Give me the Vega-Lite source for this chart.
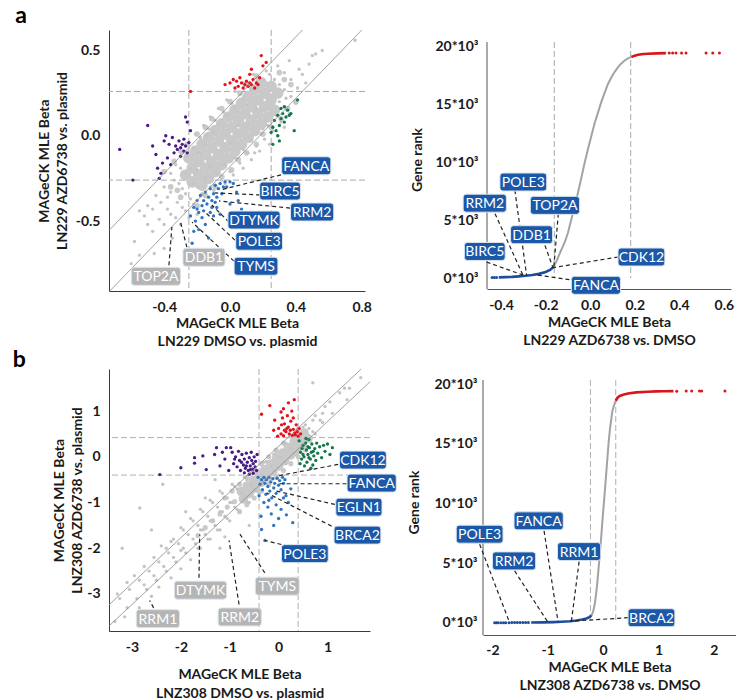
{
"$schema":"https://vega.github.io/schema/vega-lite/v6.json",
"background":"white",
"padding":{"left":12,"top":4,"right":0,"bottom":0},
"config":{"view":{"stroke":null},"font":"Lato",
"axis":{"labelFont":"Lato","labelFontSize":14,"labelFontWeight":"bold","labelColor":"#1a1a1a","titleFont":"Lato","titleFontSize":14,"titleFontWeight":"bold","titleColor":"#1a1a1a","ticks":false,"grid":false,"domainColor":"#3a3a3a","labelPadding":8,"titleLineHeight":18,"labelOverlap":false},
"title":{"font":"Lato","color":"#000000"}},
"resolve":{"scale":{"color":"independent","fill":"independent","shape":"independent"}},
"datasets":{
"a1thx":[{"v":-0.25},{"v":0.25}],
"a1thy":[{"v":-0.26},{"v":0.26}],
"a1diag":[{"x":-0.735,"y":-0.555,"x2":0.44,"y2":0.62},{"x":-0.73,"y":-0.91,"x2":0.8,"y2":0.62}],
"a1pts":[
{"x":-0.17,"y":-0.29,"g":"c"},{"x":-0.13,"y":-0.25,"g":"c"},{"x":-0.09,"y":-0.21,"g":"c"},{"x":-0.05,"y":-0.17,"g":"c"},{"x":-0.01,"y":-0.13,"g":"c"},{"x":0.03,"y":-0.09,"g":"c"},{"x":0.07,"y":-0.05,"g":"c"},{"x":0.11,"y":-0.01,"g":"c"},{"x":0.15,"y":0.03,"g":"c"},{"x":0.19,"y":0.07,"g":"c"},{"x":0.23,"y":0.11,"g":"c"},{"x":0.27,"y":0.15,"g":"c"},
{"x":-0.23,"y":-0.27,"g":"c"},{"x":-0.19,"y":-0.23,"g":"c"},{"x":-0.15,"y":-0.19,"g":"c"},{"x":-0.11,"y":-0.15,"g":"c"},{"x":-0.07,"y":-0.11,"g":"c"},{"x":-0.03,"y":-0.07,"g":"c"},{"x":0.01,"y":-0.03,"g":"c"},{"x":0.05,"y":0.01,"g":"c"},{"x":0.09,"y":0.05,"g":"c"},{"x":0.13,"y":0.09,"g":"c"},{"x":0.17,"y":0.13,"g":"c"},{"x":0.21,"y":0.17,"g":"c"},{"x":0.25,"y":0.21,"g":"c"},{"x":0.29,"y":0.25,"g":"c"},
{"x":-0.27,"y":-0.23,"g":"c"},{"x":-0.23,"y":-0.19,"g":"c"},{"x":-0.19,"y":-0.15,"g":"c"},{"x":-0.15,"y":-0.11,"g":"c"},{"x":-0.11,"y":-0.07,"g":"c"},{"x":-0.07,"y":-0.03,"g":"c"},{"x":-0.03,"y":0.01,"g":"c"},{"x":0.01,"y":0.05,"g":"c"},{"x":0.05,"y":0.09,"g":"c"},{"x":0.09,"y":0.13,"g":"c"},{"x":0.13,"y":0.17,"g":"c"},{"x":0.17,"y":0.21,"g":"c"},{"x":0.21,"y":0.25,"g":"c"},{"x":0.25,"y":0.29,"g":"c"},
{"x":-0.25,"y":-0.13,"g":"c"},{"x":-0.21,"y":-0.09,"g":"c"},{"x":-0.17,"y":-0.05,"g":"c"},{"x":-0.13,"y":-0.01,"g":"c"},{"x":-0.09,"y":0.03,"g":"c"},{"x":-0.05,"y":0.07,"g":"c"},{"x":-0.01,"y":0.11,"g":"c"},{"x":0.03,"y":0.15,"g":"c"},{"x":0.07,"y":0.19,"g":"c"},{"x":0.11,"y":0.23,"g":"c"},{"x":0.15,"y":0.27,"g":"c"},{"x":0.19,"y":0.31,"g":"c"},
{"x":-0.4,"y":-0.21,"g":"h"},{"x":-0.34,"y":-0.15,"g":"h"},{"x":-0.3,"y":-0.09,"g":"h"},{"x":-0.26,"y":-0.05,"g":"h"},{"x":-0.2,"y":0.01,"g":"h"},{"x":-0.15,"y":0.05,"g":"h"},{"x":-0.11,"y":0.1,"g":"h"},{"x":-0.05,"y":0.16,"g":"h"},{"x":0.0,"y":0.2,"g":"h"},{"x":0.06,"y":0.25,"g":"h"},{"x":0.1,"y":0.3,"g":"h"},{"x":0.16,"y":0.35,"g":"h"},{"x":-0.2,"y":-0.41,"g":"h"},{"x":-0.15,"y":-0.35,"g":"h"},{"x":-0.09,"y":-0.3,"g":"h"},{"x":-0.05,"y":-0.24,"g":"h"},{"x":0.01,"y":-0.2,"g":"h"},{"x":0.05,"y":-0.14,"g":"h"},{"x":0.1,"y":-0.1,"g":"h"},{"x":0.16,"y":-0.05,"g":"h"},{"x":0.2,"y":0.01,"g":"h"},{"x":0.25,"y":0.05,"g":"h"},{"x":0.31,"y":0.1,"g":"h"},{"x":0.35,"y":0.16,"g":"h"},{"x":0.4,"y":0.2,"g":"h"},{"x":-0.32,"y":-0.32,"g":"h"},{"x":0.33,"y":0.33,"g":"h"},{"x":0.3,"y":0.37,"g":"h"},{"x":0.37,"y":0.3,"g":"h"},{"x":-0.36,"y":-0.3,"g":"h"},{"x":-0.3,"y":-0.36,"g":"h"},
{"x":-0.58,"y":-0.62,"g":"s"},{"x":-0.55,"y":-0.7,"g":"s"},{"x":-0.52,"y":-0.47,"g":"s"},{"x":-0.47,"y":-0.56,"g":"s"},{"x":-0.55,"y":-0.44,"g":"s"},{"x":-0.5,"y":-0.52,"g":"s"},{"x":-0.46,"y":-0.69,"g":"s"},{"x":-0.43,"y":-0.49,"g":"s"},{"x":-0.5,"y":-0.41,"g":"s"},{"x":-0.4,"y":-0.52,"g":"s"},{"x":-0.47,"y":-0.43,"g":"s"},{"x":-0.38,"y":-0.43,"g":"s"},{"x":-0.45,"y":-0.35,"g":"s"},{"x":-0.36,"y":-0.46,"g":"s"},{"x":-0.42,"y":-0.39,"g":"s"},{"x":-0.33,"y":-0.48,"g":"s"},{"x":-0.32,"y":-0.39,"g":"s"},{"x":-0.4,"y":-0.3,"g":"s"},{"x":-0.29,"y":-0.42,"g":"s"},{"x":-0.36,"y":-0.33,"g":"s"},{"x":-0.27,"y":-0.44,"g":"s"},{"x":-0.38,"y":-0.36,"g":"s"},{"x":-0.27,"y":-0.34,"g":"s"},{"x":-0.34,"y":-0.26,"g":"s"},{"x":-0.24,"y":-0.37,"g":"s"},{"x":-0.31,"y":-0.28,"g":"s"},{"x":-0.22,"y":-0.4,"g":"s"},{"x":-0.36,"y":-0.22,"g":"s"},{"x":-0.29,"y":-0.31,"g":"s"},{"x":-0.2,"y":-0.3,"g":"s"},{"x":-0.3,"y":-0.19,"g":"s"},{"x":-0.17,"y":-0.34,"g":"s"},{"x":-0.27,"y":-0.22,"g":"s"},{"x":-0.33,"y":-0.17,"g":"s"},{"x":-0.22,"y":-0.28,"g":"s"},{"x":-0.15,"y":-0.25,"g":"s"},{"x":-0.26,"y":-0.12,"g":"s"},{"x":-0.12,"y":-0.3,"g":"s"},{"x":-0.29,"y":-0.1,"g":"s"},{"x":-0.2,"y":-0.2,"g":"s"},{"x":-0.1,"y":-0.32,"g":"s"},{"x":-0.08,"y":-0.22,"g":"s"},{"x":-0.22,"y":-0.07,"g":"s"},{"x":-0.05,"y":-0.26,"g":"s"},{"x":-0.25,"y":-0.04,"g":"s"},{"x":-0.19,"y":-0.1,"g":"s"},{"x":-0.03,"y":-0.28,"g":"s"},{"x":-0.03,"y":-0.17,"g":"s"},{"x":-0.18,"y":-0.01,"g":"s"},{"x":0.0,"y":-0.21,"g":"s"},{"x":-0.21,"y":0.01,"g":"s"},{"x":-0.15,"y":-0.05,"g":"s"},{"x":0.02,"y":-0.23,"g":"s"},{"x":0.03,"y":-0.13,"g":"s"},{"x":-0.13,"y":0.04,"g":"s"},{"x":0.06,"y":-0.16,"g":"s"},{"x":-0.16,"y":0.06,"g":"s"},{"x":0.08,"y":-0.19,"g":"s"},{"x":-0.1,"y":0.02,"g":"s"},{"x":0.08,"y":-0.08,"g":"s"},{"x":-0.09,"y":0.09,"g":"s"},{"x":0.11,"y":-0.1,"g":"s"},{"x":-0.12,"y":0.11,"g":"s"},{"x":0.13,"y":-0.14,"g":"s"},{"x":-0.07,"y":0.07,"g":"s"},{"x":0.13,"y":-0.03,"g":"s"},{"x":-0.04,"y":0.14,"g":"s"},{"x":0.16,"y":-0.06,"g":"s"},{"x":-0.07,"y":0.16,"g":"s"},{"x":0.18,"y":-0.09,"g":"s"},{"x":-0.02,"y":0.12,"g":"s"},{"x":0.19,"y":0.01,"g":"s"},{"x":0.01,"y":0.19,"g":"s"},{"x":0.21,"y":-0.02,"g":"s"},{"x":-0.02,"y":0.21,"g":"s"},{"x":0.24,"y":-0.05,"g":"s"},{"x":0.03,"y":0.17,"g":"s"},{"x":0.23,"y":0.06,"g":"s"},{"x":0.06,"y":0.24,"g":"s"},{"x":0.26,"y":0.03,"g":"s"},{"x":0.03,"y":0.26,"g":"s"},{"x":0.29,"y":0.0,"g":"s"},{"x":0.08,"y":0.22,"g":"s"},{"x":0.28,"y":0.12,"g":"s"},{"x":0.11,"y":0.29,"g":"s"},{"x":0.31,"y":0.08,"g":"s"},{"x":0.08,"y":0.31,"g":"s"},{"x":0.33,"y":0.05,"g":"s"},{"x":0.13,"y":0.27,"g":"s"},{"x":0.33,"y":0.17,"g":"s"},{"x":0.16,"y":0.34,"g":"s"},{"x":0.36,"y":0.13,"g":"s"},{"x":0.14,"y":0.36,"g":"s"},{"x":0.3,"y":0.2,"g":"s"},{"x":0.37,"y":0.23,"g":"s"},{"x":0.22,"y":0.38,"g":"s"},{"x":0.4,"y":0.19,"g":"s"},{"x":0.27,"y":0.33,"g":"s"},{"x":0.33,"y":0.27,"g":"s"},{"x":0.3,"y":0.3,"g":"s"},{"x":0.41,"y":0.28,"g":"s"},{"x":0.29,"y":0.41,"g":"s"},{"x":0.37,"y":0.33,"g":"s"},{"x":0.33,"y":0.37,"g":"s"},{"x":0.44,"y":0.36,"g":"s"},{"x":0.36,"y":0.44,"g":"s"},{"x":0.42,"y":0.39,"g":"s"},{"x":0.48,"y":0.42,"g":"s"},{"x":0.52,"y":0.48,"g":"s"},{"x":0.76,"y":0.56,"g":"s"},{"x":0.5,"y":0.47,"g":"s"},{"x":0.56,"y":0.5,"g":"s"},{"x":0.46,"y":0.31,"g":"s"},{"x":0.24,"y":0.36,"g":"s"},{"x":0.2,"y":0.33,"g":"s"},{"x":0.34,"y":0.22,"g":"s"},{"x":-0.35,"y":-0.6,"g":"s"},{"x":-0.4,"y":-0.66,"g":"s"},{"x":-0.3,"y":-0.52,"g":"s"},{"x":-0.6,"y":-0.75,"g":"s"},{"x":-0.25,"y":-0.48,"g":"s"},{"x":-0.2,"y":-0.46,"g":"s"},{"x":-0.18,"y":-0.1,"g":"s"},{"x":-0.12,"y":-0.18,"g":"s"},{"x":0.0,"y":-0.04,"g":"s"},{"x":0.05,"y":0.06,"g":"s"},{"x":0.16,"y":0.16,"g":"s"},{"x":-0.24,"y":-0.19,"g":"s"},{"x":-0.14,"y":0.0,"g":"s"},{"x":0.1,"y":0.18,"g":"s"},{"x":0.2,"y":0.04,"g":"s"},{"x":0.15,"y":-0.1,"g":"s"},
{"x":-0.24,"y":0.26,"g":"r"},{"x":-0.03,"y":0.3,"g":"r"},{"x":0.0,"y":0.31,"g":"r"},{"x":0.02,"y":0.33,"g":"r"},{"x":0.03,"y":0.28,"g":"r"},{"x":0.04,"y":0.32,"g":"r"},{"x":0.05,"y":0.29,"g":"r"},{"x":0.06,"y":0.34,"g":"r"},{"x":0.07,"y":0.31,"g":"r"},{"x":0.08,"y":0.28,"g":"r"},{"x":0.09,"y":0.3,"g":"r"},{"x":0.1,"y":0.32,"g":"r"},{"x":0.11,"y":0.29,"g":"r"},{"x":0.12,"y":0.31,"g":"r"},{"x":0.13,"y":0.3,"g":"r"},{"x":0.14,"y":0.33,"g":"r"},{"x":0.15,"y":0.28,"g":"r"},{"x":0.16,"y":0.31,"g":"r"},{"x":0.17,"y":0.3,"g":"r"},{"x":0.13,"y":0.39,"g":"r"},{"x":0.19,"y":0.47,"g":"r"},{"x":0.22,"y":0.43,"g":"r"},{"x":0.2,"y":0.41,"g":"r"},{"x":0.12,"y":0.36,"g":"r"},{"x":0.18,"y":0.34,"g":"r"},
{"x":-0.67,"y":-0.08,"g":"p"},{"x":-0.59,"y":-0.26,"g":"p"},{"x":-0.5,"y":0.06,"g":"p"},{"x":-0.47,"y":-0.06,"g":"p"},{"x":-0.45,"y":-0.11,"g":"p"},{"x":-0.44,"y":-0.19,"g":"p"},{"x":-0.42,"y":-0.22,"g":"p"},{"x":-0.4,"y":-0.03,"g":"p"},{"x":-0.39,"y":0.0,"g":"p"},{"x":-0.38,"y":-0.13,"g":"p"},{"x":-0.37,"y":-0.05,"g":"p"},{"x":-0.36,"y":-0.17,"g":"p"},{"x":-0.35,"y":-0.01,"g":"p"},{"x":-0.34,"y":-0.1,"g":"p"},{"x":-0.33,"y":-0.06,"g":"p"},{"x":-0.32,"y":-0.08,"g":"p"},{"x":-0.31,"y":-0.03,"g":"p"},{"x":-0.3,"y":-0.07,"g":"p"},{"x":-0.3,"y":-0.12,"g":"p"},{"x":-0.29,"y":-0.05,"g":"p"},{"x":-0.28,"y":-0.09,"g":"p"},{"x":-0.28,"y":-0.02,"g":"p"},{"x":-0.27,"y":-0.06,"g":"p"},{"x":-0.27,"y":0.11,"g":"p"},{"x":-0.26,"y":0.08,"g":"p"},{"x":-0.26,"y":-0.1,"g":"p"},{"x":-0.25,"y":-0.04,"g":"p"},{"x":-0.24,"y":0.03,"g":"p"},{"x":-0.41,"y":-0.16,"g":"p"},{"x":-0.43,"y":-0.25,"g":"p"},
{"x":0.41,"y":0.21,"g":"gr"},{"x":0.39,"y":0.03,"g":"gr"},{"x":0.37,"y":0.13,"g":"gr"},{"x":0.35,"y":0.15,"g":"gr"},{"x":0.34,"y":0.11,"g":"gr"},{"x":0.33,"y":0.08,"g":"gr"},{"x":0.32,"y":0.13,"g":"gr"},{"x":0.31,"y":0.1,"g":"gr"},{"x":0.3,"y":0.06,"g":"gr"},{"x":0.29,"y":0.12,"g":"gr"},{"x":0.28,"y":0.03,"g":"gr"},{"x":0.27,"y":0.09,"g":"gr"},{"x":0.26,"y":0.05,"g":"gr"},{"x":0.25,"y":0.02,"g":"gr"},{"x":0.26,"y":-0.05,"g":"gr"},{"x":0.3,"y":-0.03,"g":"gr"},{"x":0.33,"y":0.17,"g":"gr"},{"x":0.36,"y":0.12,"g":"gr"},{"x":0.29,"y":0.0,"g":"gr"},{"x":0.31,"y":0.16,"g":"gr"},
{"x":-0.22,"y":-0.42,"g":"b"},{"x":-0.2,"y":-0.38,"g":"b"},{"x":-0.19,"y":-0.45,"g":"b"},{"x":-0.18,"y":-0.35,"g":"b"},{"x":-0.17,"y":-0.41,"g":"b"},{"x":-0.16,"y":-0.38,"g":"b"},{"x":-0.15,"y":-0.33,"g":"b"},{"x":-0.14,"y":-0.4,"g":"b"},{"x":-0.13,"y":-0.36,"g":"b"},{"x":-0.12,"y":-0.31,"g":"b"},{"x":-0.11,"y":-0.38,"g":"b"},{"x":-0.1,"y":-0.34,"g":"b"},{"x":-0.09,"y":-0.29,"g":"b"},{"x":-0.08,"y":-0.36,"g":"b"},{"x":-0.07,"y":-0.31,"g":"b"},{"x":-0.06,"y":-0.28,"g":"b"},{"x":-0.05,"y":-0.34,"g":"b"},{"x":-0.04,"y":-0.3,"g":"b"},{"x":-0.03,"y":-0.27,"g":"b"},{"x":-0.02,"y":-0.3,"g":"b"},{"x":0.0,"y":-0.27,"g":"b"},{"x":0.02,"y":-0.28,"g":"b"},{"x":0.04,"y":-0.33,"g":"b"},{"x":-0.21,"y":-0.5,"g":"b"},{"x":-0.19,"y":-0.55,"g":"b"},{"x":-0.17,"y":-0.48,"g":"b"},{"x":-0.15,"y":-0.52,"g":"b"},{"x":-0.12,"y":-0.45,"g":"b"},{"x":-0.1,"y":-0.47,"g":"b"},{"x":-0.08,"y":-0.42,"g":"b"},{"x":-0.06,"y":-0.46,"g":"b"},{"x":-0.23,"y":-0.63,"g":"b"},{"x":-0.24,"y":-0.47,"g":"b"},{"x":-0.22,"y":-0.56,"g":"b"},{"x":-0.13,"y":-0.6,"g":"b"},{"x":0.0,"y":-0.4,"g":"b"},{"x":0.05,"y":-0.38,"g":"b"},{"x":0.07,"y":-0.43,"g":"b"},{"x":-0.16,"y":-0.44,"g":"b"},{"x":-0.2,"y":-0.43,"g":"b"},{"x":-0.11,"y":-0.42,"g":"b"},{"x":-0.09,"y":-0.39,"g":"b"}],
"a1lead":[{"x":0.31,"y":-0.229,"x2":-0.061,"y2":-0.318},{"x":0.183,"y":-0.347,"x2":-0.091,"y2":-0.335},{"x":0.365,"y":-0.424,"x2":-0.067,"y2":-0.382},{"x":-0.006,"y":-0.506,"x2":-0.11,"y2":-0.406},{"x":0.03,"y":-0.612,"x2":-0.152,"y2":-0.447},{"x":0.024,"y":-0.735,"x2":-0.231,"y2":-0.506},{"x":-0.262,"y":-0.653,"x2":-0.304,"y2":-0.494},{"x":-0.371,"y":-0.759,"x2":-0.353,"y2":-0.535}],
"a1lab":[{"lab":"FANCA","x":0.463,"y":-0.176,"k":"b"},{"lab":"BIRC5","x":0.304,"y":-0.324,"k":"b"},{"lab":"RRM2","x":0.499,"y":-0.447,"k":"b"},{"lab":"DTYMK","x":0.146,"y":-0.494,"k":"b"},{"lab":"POLE3","x":0.177,"y":-0.618,"k":"b"},{"lab":"TYMS","x":0.158,"y":-0.765,"k":"b"},{"lab":"DDB1","x":-0.158,"y":-0.712,"k":"g"},{"lab":"TOP2A","x":-0.45,"y":-0.824,"k":"g"}],
"a2thx":[{"v":-0.161},{"v":0.182}],
"a2axis":[{"x":-0.463,"y":-950,"y2":20430}],
"a2rank":[
{"b":-0.41,"r":60,"s":"blue"},{"b":-0.38,"r":80,"s":"blue"},{"b":-0.35,"r":100,"s":"blue"},{"b":-0.32,"r":140,"s":"blue"},{"b":-0.29,"r":190,"s":"blue"},{"b":-0.26,"r":260,"s":"blue"},{"b":-0.23,"r":360,"s":"blue"},{"b":-0.2,"r":520,"s":"blue"},{"b":-0.18,"r":700,"s":"blue"},{"b":-0.165,"r":950,"s":"blue"},
{"b":-0.165,"r":950,"s":"grey"},{"b":-0.15,"r":1500,"s":"grey"},{"b":-0.135,"r":2200,"s":"grey"},{"b":-0.114,"r":3100,"s":"grey"},{"b":-0.1,"r":3900,"s":"grey"},{"b":-0.084,"r":5100,"s":"grey"},{"b":-0.07,"r":6200,"s":"grey"},{"b":-0.054,"r":7450,"s":"grey"},{"b":-0.04,"r":8650,"s":"grey"},{"b":-0.024,"r":10050,"s":"grey"},{"b":-0.01,"r":11150,"s":"grey"},{"b":0.006,"r":12350,"s":"grey"},{"b":0.02,"r":13400,"s":"grey"},{"b":0.036,"r":14380,"s":"grey"},{"b":0.05,"r":15250,"s":"grey"},{"b":0.066,"r":16100,"s":"grey"},{"b":0.08,"r":16800,"s":"grey"},{"b":0.096,"r":17400,"s":"grey"},{"b":0.11,"r":17850,"s":"grey"},{"b":0.126,"r":18270,"s":"grey"},{"b":0.14,"r":18580,"s":"grey"},{"b":0.156,"r":18850,"s":"grey"},{"b":0.17,"r":19020,"s":"grey"},{"b":0.185,"r":19140,"s":"grey"},
{"b":0.185,"r":19140,"s":"red"},{"b":0.2,"r":19250,"s":"red"},{"b":0.215,"r":19330,"s":"red"},{"b":0.24,"r":19390,"s":"red"},{"b":0.26,"r":19420,"s":"red"},{"b":0.3,"r":19450,"s":"red"},{"b":0.34,"r":19465,"s":"red"}],
"a2dots":[{"b":-0.44,"r":40,"s":"blue"},{"b":-0.43,"r":45,"s":"blue"},{"b":-0.42,"r":50,"s":"blue"},{"b":0.355,"r":19470,"s":"red"},{"b":0.37,"r":19470,"s":"red"},{"b":0.385,"r":19470,"s":"red"},{"b":0.41,"r":19475,"s":"red"},{"b":0.43,"r":19475,"s":"red"},{"b":0.52,"r":19480,"s":"red"},{"b":0.55,"r":19480,"s":"red"},{"b":0.58,"r":19480,"s":"red"}],
"a2lead":[{"x":-0.338,"y":7600,"x2":-0.285,"y2":200},{"x":-0.427,"y":5570,"x2":-0.3,"y2":180},{"x":-0.465,"y":1385,"x2":-0.293,"y2":200},{"x":-0.203,"y":2830,"x2":-0.166,"y2":850},{"x":-0.143,"y":5570,"x2":-0.163,"y2":950},{"x":0.126,"y":1820,"x2":-0.166,"y2":900},{"x":0.0,"y":-400,"x2":-0.25,"y2":300}],
"a2lab":[{"lab":"POLE3","x":-0.3,"y":8310},{"lab":"RRM2","x":-0.473,"y":6480},{"lab":"TOP2A","x":-0.158,"y":6290},{"lab":"DDB1","x":-0.263,"y":3750},{"lab":"BIRC5","x":-0.473,"y":2300},{"lab":"CDK12","x":0.23,"y":1820},{"lab":"FANCA","x":0.026,"y":-630}],
"b1thx":[{"v":-0.4},{"v":0.4}],
"b1thy":[{"v":-0.4},{"v":0.42}],
"b1diag":[{"x":-3.47,"y":-3.24,"x2":1.69,"y2":1.92},{"x":-3.47,"y":-3.7,"x2":1.87,"y2":1.64}],
"b1pts":[
{"x":-0.72,"y":-0.92,"g":"c"},{"x":-0.6,"y":-0.8,"g":"c"},{"x":-0.48,"y":-0.68,"g":"c"},{"x":-0.36,"y":-0.56,"g":"c"},{"x":-0.24,"y":-0.44,"g":"c"},{"x":-0.12,"y":-0.32,"g":"c"},{"x":0.0,"y":-0.2,"g":"c"},{"x":0.12,"y":-0.08,"g":"c"},{"x":0.24,"y":0.04,"g":"c"},{"x":0.36,"y":0.16,"g":"c"},{"x":0.48,"y":0.28,"g":"c"},{"x":0.6,"y":0.4,"g":"c"},
{"x":-0.76,"y":-0.76,"g":"c"},{"x":-0.64,"y":-0.64,"g":"c"},{"x":-0.52,"y":-0.52,"g":"c"},{"x":-0.4,"y":-0.4,"g":"c"},{"x":-0.28,"y":-0.28,"g":"c"},{"x":-0.16,"y":-0.16,"g":"c"},{"x":-0.04,"y":-0.04,"g":"c"},{"x":0.08,"y":0.08,"g":"c"},{"x":0.2,"y":0.2,"g":"c"},{"x":0.32,"y":0.32,"g":"c"},{"x":0.44,"y":0.44,"g":"c"},{"x":0.52,"y":0.52,"g":"c"},
{"x":-1.1,"y":-0.9,"g":"h"},{"x":-0.95,"y":-0.75,"g":"h"},{"x":-0.8,"y":-0.6,"g":"h"},{"x":-0.65,"y":-0.45,"g":"h"},{"x":-0.5,"y":-0.3,"g":"h"},{"x":-0.35,"y":-0.15,"g":"h"},{"x":-0.2,"y":0.0,"g":"h"},{"x":-0.05,"y":0.15,"g":"h"},{"x":0.1,"y":0.3,"g":"h"},{"x":0.25,"y":0.45,"g":"h"},{"x":0.4,"y":0.6,"g":"h"},{"x":-0.8,"y":-1.2,"g":"h"},{"x":-0.65,"y":-1.05,"g":"h"},{"x":-0.5,"y":-0.9,"g":"h"},{"x":-0.35,"y":-0.75,"g":"h"},{"x":-0.2,"y":-0.6,"g":"h"},{"x":-0.05,"y":-0.45,"g":"h"},{"x":0.1,"y":-0.3,"g":"h"},{"x":0.25,"y":-0.15,"g":"h"},{"x":0.4,"y":0.0,"g":"h"},{"x":0.55,"y":0.15,"g":"h"},{"x":-0.9,"y":-0.98,"g":"h"},{"x":-1.05,"y":-1.1,"g":"h"},{"x":-1.2,"y":-1.25,"g":"h"},{"x":-1.35,"y":-1.4,"g":"h"},{"x":-1.5,"y":-1.55,"g":"h"},{"x":-1.65,"y":-1.72,"g":"h"},
{"x":1.25,"y":1.4,"g":"s"},{"x":1.4,"y":1.25,"g":"s"},{"x":1.35,"y":1.5,"g":"s"},{"x":0.7,"y":1.62,"g":"s"},{"x":1.68,"y":1.73,"g":"s"},{"x":1.45,"y":1.5,"g":"s"},{"x":0.95,"y":1.1,"g":"s"},{"x":1.1,"y":0.95,"g":"s"},{"x":1.05,"y":1.2,"g":"s"},{"x":0.9,"y":0.95,"g":"s"},{"x":0.75,"y":0.9,"g":"s"},{"x":0.9,"y":0.75,"g":"s"},{"x":0.85,"y":0.8,"g":"s"},{"x":0.7,"y":0.8,"g":"s"},{"x":0.55,"y":0.7,"g":"s"},{"x":0.7,"y":0.55,"g":"s"},{"x":0.62,"y":0.62,"g":"s"},{"x":0.5,"y":0.65,"g":"s"},{"x":0.75,"y":0.5,"g":"s"},{"x":0.35,"y":0.5,"g":"s"},{"x":0.45,"y":0.35,"g":"s"},{"x":0.5,"y":0.3,"g":"s"},{"x":0.3,"y":0.45,"g":"s"},{"x":0.42,"y":0.42,"g":"s"},{"x":0.15,"y":0.3,"g":"s"},{"x":0.3,"y":0.1,"g":"s"},{"x":0.25,"y":0.2,"g":"s"},{"x":0.35,"y":0.05,"g":"s"},{"x":0.1,"y":0.28,"g":"s"},{"x":-0.05,"y":0.1,"g":"s"},{"x":0.1,"y":-0.1,"g":"s"},{"x":0.05,"y":0.0,"g":"s"},{"x":0.15,"y":-0.15,"g":"s"},{"x":-0.1,"y":0.05,"g":"s"},{"x":-0.25,"y":-0.1,"g":"s"},{"x":-0.1,"y":-0.3,"g":"s"},{"x":-0.15,"y":-0.2,"g":"s"},{"x":0.0,"y":-0.4,"g":"s"},{"x":-0.3,"y":-0.12,"g":"s"},{"x":-0.45,"y":-0.3,"g":"s"},{"x":-0.3,"y":-0.5,"g":"s"},{"x":-0.35,"y":-0.4,"g":"s"},{"x":-0.2,"y":-0.6,"g":"s"},{"x":-0.5,"y":-0.3,"g":"s"},{"x":-0.65,"y":-0.5,"g":"s"},{"x":-0.5,"y":-0.7,"g":"s"},{"x":-0.55,"y":-0.6,"g":"s"},{"x":-0.4,"y":-0.8,"g":"s"},{"x":-0.7,"y":-0.45,"g":"s"},{"x":-0.45,"y":-0.75,"g":"s"},{"x":-0.85,"y":-0.7,"g":"s"},{"x":-0.7,"y":-0.9,"g":"s"},{"x":-0.75,"y":-0.8,"g":"s"},{"x":-0.6,"y":-1.0,"g":"s"},{"x":-0.9,"y":-0.65,"g":"s"},{"x":-0.95,"y":-0.6,"g":"s"},{"x":-0.65,"y":-1.0,"g":"s"},{"x":-1.05,"y":-0.9,"g":"s"},{"x":-0.9,"y":-1.1,"g":"s"},{"x":-0.95,"y":-1.0,"g":"s"},{"x":-0.8,"y":-1.2,"g":"s"},{"x":-1.15,"y":-0.8,"g":"s"},{"x":-1.2,"y":-0.75,"g":"s"},{"x":-0.85,"y":-1.15,"g":"s"},{"x":-1.0,"y":-1.0,"g":"s"},{"x":-1.25,"y":-1.1,"g":"s"},{"x":-1.1,"y":-1.3,"g":"s"},{"x":-1.15,"y":-1.2,"g":"s"},{"x":-1.0,"y":-1.4,"g":"s"},{"x":-1.35,"y":-1.0,"g":"s"},{"x":-1.4,"y":-0.95,"g":"s"},{"x":-1.05,"y":-1.35,"g":"s"},{"x":-1.2,"y":-1.2,"g":"s"},{"x":-1.5,"y":-0.9,"g":"s"},{"x":-1.45,"y":-1.3,"g":"s"},{"x":-1.3,"y":-1.5,"g":"s"},{"x":-1.35,"y":-1.4,"g":"s"},{"x":-1.2,"y":-1.6,"g":"s"},{"x":-1.55,"y":-1.2,"g":"s"},{"x":-1.6,"y":-1.15,"g":"s"},{"x":-1.25,"y":-1.6,"g":"s"},{"x":-1.4,"y":-1.4,"g":"s"},{"x":-1.1,"y":-1.75,"g":"s"},{"x":-1.65,"y":-1.5,"g":"s"},{"x":-1.5,"y":-1.7,"g":"s"},{"x":-1.55,"y":-1.6,"g":"s"},{"x":-1.4,"y":-1.8,"g":"s"},{"x":-1.75,"y":-1.4,"g":"s"},{"x":-1.8,"y":-1.35,"g":"s"},{"x":-1.45,"y":-1.8,"g":"s"},{"x":-1.6,"y":-1.6,"g":"s"},{"x":-1.85,"y":-1.7,"g":"s"},{"x":-1.7,"y":-1.9,"g":"s"},{"x":-1.75,"y":-1.8,"g":"s"},{"x":-1.6,"y":-2.0,"g":"s"},{"x":-1.95,"y":-1.6,"g":"s"},{"x":-2.0,"y":-1.55,"g":"s"},{"x":-1.65,"y":-2.0,"g":"s"},{"x":-2.05,"y":-1.9,"g":"s"},{"x":-1.9,"y":-2.1,"g":"s"},{"x":-1.95,"y":-2.0,"g":"s"},{"x":-1.8,"y":-2.25,"g":"s"},{"x":-2.15,"y":-1.8,"g":"s"},{"x":-2.2,"y":-1.85,"g":"s"},{"x":-2.0,"y":-2.05,"g":"s"},{"x":-2.25,"y":-2.1,"g":"s"},{"x":-2.1,"y":-2.3,"g":"s"},{"x":-2.15,"y":-2.2,"g":"s"},{"x":-2.3,"y":-2.0,"g":"s"},{"x":-2.0,"y":-2.45,"g":"s"},{"x":-2.4,"y":-1.95,"g":"s"},{"x":-2.45,"y":-2.3,"g":"s"},{"x":-2.3,"y":-2.5,"g":"s"},{"x":-2.35,"y":-2.4,"g":"s"},{"x":-2.55,"y":-2.2,"g":"s"},{"x":-2.2,"y":-2.65,"g":"s"},{"x":-2.65,"y":-2.5,"g":"s"},{"x":-2.5,"y":-2.7,"g":"s"},{"x":-2.55,"y":-2.6,"g":"s"},{"x":-2.75,"y":-2.4,"g":"s"},{"x":-2.45,"y":-2.85,"g":"s"},{"x":-2.85,"y":-2.7,"g":"s"},{"x":-2.7,"y":-2.9,"g":"s"},{"x":-2.75,"y":-2.8,"g":"s"},{"x":-2.95,"y":-2.6,"g":"s"},{"x":-2.6,"y":-3.05,"g":"s"},{"x":-3.05,"y":-2.9,"g":"s"},{"x":-2.9,"y":-3.1,"g":"s"},{"x":-3.1,"y":-2.75,"g":"s"},{"x":-2.85,"y":-3.3,"g":"s"},{"x":-3.25,"y":-3.1,"g":"s"},{"x":-3.1,"y":-3.3,"g":"s"},{"x":-3.3,"y":-3.0,"g":"s"},{"x":-3.15,"y":-3.5,"g":"s"},{"x":-3.35,"y":-3.6,"g":"s"},{"x":-2.37,"y":-0.6,"g":"s"},{"x":-2.84,"y":-1.12,"g":"s"},{"x":-3.2,"y":-2.0,"g":"s"},{"x":-1.3,"y":-0.5,"g":"s"},{"x":-1.9,"y":-1.2,"g":"s"},{"x":-2.6,"y":-1.6,"g":"s"},{"x":-0.6,"y":-1.5,"g":"s"},{"x":-1.2,"y":-2.0,"g":"s"},
{"x":-0.35,"y":0.93,"g":"r"},{"x":-0.18,"y":1.12,"g":"r"},{"x":-0.08,"y":0.8,"g":"r"},{"x":0.0,"y":0.62,"g":"r"},{"x":0.05,"y":0.98,"g":"r"},{"x":0.08,"y":0.85,"g":"r"},{"x":0.1,"y":1.05,"g":"r"},{"x":0.12,"y":0.72,"g":"r"},{"x":0.15,"y":0.55,"g":"r"},{"x":0.18,"y":0.9,"g":"r"},{"x":0.2,"y":0.65,"g":"r"},{"x":0.22,"y":0.5,"g":"r"},{"x":0.25,"y":0.78,"g":"r"},{"x":0.27,"y":1.0,"g":"r"},{"x":0.3,"y":0.6,"g":"r"},{"x":0.32,"y":1.25,"g":"r"},{"x":0.34,"y":0.48,"g":"r"},{"x":0.36,"y":0.7,"g":"r"},{"x":0.38,"y":0.55,"g":"r"},{"x":0.4,"y":0.45,"g":"r"},{"x":0.05,"y":0.5,"g":"r"},{"x":0.1,"y":0.46,"g":"r"},{"x":0.17,"y":0.62,"g":"r"},{"x":0.24,"y":0.58,"g":"r"},{"x":0.28,"y":0.47,"g":"r"},{"x":0.33,"y":0.52,"g":"r"},{"x":0.12,"y":0.58,"g":"r"},{"x":-0.02,"y":0.45,"g":"r"},{"x":0.42,"y":0.62,"g":"r"},{"x":0.45,"y":0.5,"g":"r"},{"x":0.06,"y":0.7,"g":"r"},{"x":-0.1,"y":0.58,"g":"r"},{"x":0.3,"y":0.85,"g":"r"},{"x":0.2,"y":1.18,"g":"r"},
{"x":-2.43,"y":-0.39,"g":"p"},{"x":-2.0,"y":-0.24,"g":"p"},{"x":-1.72,"y":-0.02,"g":"p"},{"x":-1.72,"y":-0.14,"g":"p"},{"x":-1.55,"y":0.02,"g":"p"},{"x":-1.48,"y":-0.28,"g":"p"},{"x":-1.31,"y":0.05,"g":"p"},{"x":-1.27,"y":0.2,"g":"p"},{"x":-1.2,"y":-0.2,"g":"p"},{"x":-1.1,"y":-0.05,"g":"p"},{"x":-1.07,"y":0.2,"g":"p"},{"x":-1.02,"y":-0.3,"g":"p"},{"x":-0.95,"y":0.1,"g":"p"},{"x":-0.92,"y":-0.15,"g":"p"},{"x":-0.88,"y":0.0,"g":"p"},{"x":-0.85,"y":-0.22,"g":"p"},{"x":-0.82,"y":0.12,"g":"p"},{"x":-0.8,"y":-0.08,"g":"p"},{"x":-0.78,"y":-0.3,"g":"p"},{"x":-0.75,"y":0.05,"g":"p"},{"x":-0.72,"y":-0.18,"g":"p"},{"x":-0.7,"y":-0.05,"g":"p"},{"x":-0.68,"y":-0.25,"g":"p"},{"x":-0.66,"y":0.08,"g":"p"},{"x":-0.64,"y":-0.12,"g":"p"},{"x":-0.62,"y":-0.3,"g":"p"},{"x":-0.6,"y":-0.02,"g":"p"},{"x":-0.58,"y":-0.2,"g":"p"},{"x":-0.56,"y":0.1,"g":"p"},{"x":-0.55,"y":-0.08,"g":"p"},{"x":-0.53,"y":-0.27,"g":"p"},{"x":-0.52,"y":-0.15,"g":"p"},{"x":-0.5,"y":0.0,"g":"p"},{"x":-0.48,"y":-0.22,"g":"p"},{"x":-0.47,"y":-0.1,"g":"p"},{"x":-0.45,"y":-0.3,"g":"p"},{"x":-0.44,"y":0.05,"g":"p"},{"x":-0.7,"y":-0.35,"g":"p"},{"x":-0.6,"y":-0.38,"g":"p"},{"x":-0.52,"y":-0.36,"g":"p"},{"x":-0.76,"y":-0.12,"g":"p"},{"x":-0.66,"y":-0.2,"g":"p"},{"x":-0.58,"y":-0.28,"g":"p"},{"x":-0.9,"y":-0.05,"g":"p"},{"x":-0.98,"y":0.2,"g":"p"},{"x":-1.15,"y":0.1,"g":"p"},
{"x":0.42,"y":0.35,"g":"gr"},{"x":0.45,"y":0.1,"g":"gr"},{"x":0.47,"y":-0.05,"g":"gr"},{"x":0.5,"y":0.25,"g":"gr"},{"x":0.52,"y":0.0,"g":"gr"},{"x":0.55,"y":0.3,"g":"gr"},{"x":0.57,"y":0.15,"g":"gr"},{"x":0.58,"y":-0.12,"g":"gr"},{"x":0.6,"y":0.05,"g":"gr"},{"x":0.62,"y":0.38,"g":"gr"},{"x":0.63,"y":0.2,"g":"gr"},{"x":0.65,"y":-0.05,"g":"gr"},{"x":0.67,"y":0.1,"g":"gr"},{"x":0.68,"y":0.28,"g":"gr"},{"x":0.7,"y":-0.18,"g":"gr"},{"x":0.72,"y":0.02,"g":"gr"},{"x":0.74,"y":0.18,"g":"gr"},{"x":0.76,"y":-0.08,"g":"gr"},{"x":0.78,"y":0.3,"g":"gr"},{"x":0.8,"y":0.08,"g":"gr"},{"x":0.84,"y":0.22,"g":"gr"},{"x":0.88,"y":-0.02,"g":"gr"},{"x":0.92,"y":0.25,"g":"gr"},{"x":0.95,"y":0.12,"g":"gr"},{"x":1.0,"y":0.28,"g":"gr"},{"x":1.05,"y":0.05,"g":"gr"},{"x":1.1,"y":0.2,"g":"gr"},{"x":0.48,"y":0.18,"g":"gr"},{"x":0.53,"y":-0.2,"g":"gr"},{"x":0.6,"y":0.22,"g":"gr"},{"x":0.66,"y":-0.25,"g":"gr"},{"x":0.56,"y":0.4,"g":"gr"},{"x":0.44,"y":-0.15,"g":"gr"},{"x":0.5,"y":0.05,"g":"gr"},{"x":0.71,"y":0.12,"g":"gr"},{"x":0.62,"y":-0.02,"g":"gr"},
{"x":-0.42,"y":-0.45,"g":"b"},{"x":-0.38,"y":-0.6,"g":"b"},{"x":-0.35,"y":-0.5,"g":"b"},{"x":-0.33,"y":-0.72,"g":"b"},{"x":-0.3,"y":-0.45,"g":"b"},{"x":-0.28,"y":-0.58,"g":"b"},{"x":-0.26,"y":-0.82,"g":"b"},{"x":-0.25,"y":-0.5,"g":"b"},{"x":-0.22,"y":-0.65,"g":"b"},{"x":-0.2,"y":-0.45,"g":"b"},{"x":-0.18,"y":-0.75,"g":"b"},{"x":-0.16,"y":-0.55,"g":"b"},{"x":-0.14,"y":-0.9,"g":"b"},{"x":-0.12,"y":-0.48,"g":"b"},{"x":-0.1,"y":-0.68,"g":"b"},{"x":-0.08,"y":-0.58,"g":"b"},{"x":-0.05,"y":-0.8,"g":"b"},{"x":-0.03,"y":-0.47,"g":"b"},{"x":0.0,"y":-0.62,"g":"b"},{"x":0.02,"y":-0.52,"g":"b"},{"x":0.05,"y":-0.72,"g":"b"},{"x":0.08,"y":-0.45,"g":"b"},{"x":0.1,"y":-0.58,"g":"b"},{"x":0.13,"y":-0.5,"g":"b"},{"x":0.15,"y":-0.85,"g":"b"},{"x":-0.3,"y":-1.0,"g":"b"},{"x":-0.22,"y":-1.1,"g":"b"},{"x":-0.15,"y":-1.25,"g":"b"},{"x":-0.05,"y":-1.05,"g":"b"},{"x":0.05,"y":-1.15,"g":"b"},{"x":0.16,"y":-1.27,"g":"b"},{"x":0.29,"y":-1.44,"g":"b"},{"x":-0.35,"y":-1.59,"g":"b"},{"x":-0.28,"y":-1.83,"g":"b"},{"x":-0.1,"y":-1.5,"g":"b"},{"x":0.2,"y":-1.0,"g":"b"},{"x":0.25,"y":-0.7,"g":"b"},{"x":-0.4,"y":-0.85,"g":"b"},{"x":-0.36,"y":-1.3,"g":"b"},{"x":0.0,"y":-1.35,"g":"b"},{"x":-0.2,"y":-0.95,"g":"b"},{"x":0.1,"y":-0.9,"g":"b"}],
"b1lead":[{"x":1.219,"y":-0.167,"x2":-0.043,"y2":-0.422},{"x":1.391,"y":-0.59,"x2":-0.043,"y2":-0.59},{"x":1.152,"y":-1.042,"x2":-0.043,"y2":-0.75},{"x":1.084,"y":-1.516,"x2":-0.248,"y2":-0.787},{"x":0.195,"y":-1.954,"x2":-0.283,"y2":-1.83},{"x":-1.629,"y":-2.647,"x2":-1.615,"y2":-1.698},{"x":-0.283,"y":-2.538,"x2":-0.795,"y2":-1.685},{"x":-0.809,"y":-3.23,"x2":-1.014,"y2":-1.83},{"x":-2.557,"y":-3.304,"x2":-2.639,"y2":-3.142}],
"b1lab":[{"lab":"CDK12","x":1.725,"y":-0.072,"k":"b"},{"lab":"FANCA","x":1.904,"y":-0.575,"k":"b"},{"lab":"EGLN1","x":1.643,"y":-1.101,"k":"b"},{"lab":"BRCA2","x":1.613,"y":-1.713,"k":"b"},{"lab":"POLE3","x":0.537,"y":-2.118,"k":"b"},{"lab":"DTYMK","x":-1.598,"y":-2.917,"k":"g"},{"lab":"TYMS","x":-0.027,"y":-2.829,"k":"g"},{"lab":"RRM2","x":-0.795,"y":-3.503,"k":"g"},{"lab":"RRM1","x":-2.469,"y":-3.54,"k":"g"}],
"b2thx":[{"v":-0.23},{"v":0.228}],
"b2axis":[{"x":-2.17,"y":-1030,"y2":20335}],
"b2rank":[
{"b":-1.3,"r":15,"s":"blue"},{"b":-1.1,"r":25,"s":"blue"},{"b":-0.9,"r":45,"s":"blue"},{"b":-0.75,"r":75,"s":"blue"},{"b":-0.6,"r":120,"s":"blue"},{"b":-0.48,"r":180,"s":"blue"},{"b":-0.38,"r":260,"s":"blue"},{"b":-0.3,"r":360,"s":"blue"},{"b":-0.25,"r":470,"s":"blue"},{"b":-0.21,"r":600,"s":"blue"},
{"b":-0.21,"r":600,"s":"grey"},{"b":-0.18,"r":950,"s":"grey"},{"b":-0.152,"r":1540,"s":"grey"},{"b":-0.13,"r":2300,"s":"grey"},{"b":-0.108,"r":3220,"s":"grey"},{"b":-0.085,"r":4400,"s":"grey"},{"b":-0.06,"r":5740,"s":"grey"},{"b":-0.036,"r":7100,"s":"grey"},{"b":-0.013,"r":8530,"s":"grey"},{"b":0.012,"r":9950,"s":"grey"},{"b":0.036,"r":11330,"s":"grey"},{"b":0.06,"r":12750,"s":"grey"},{"b":0.083,"r":14130,"s":"grey"},{"b":0.1,"r":15150,"s":"grey"},{"b":0.12,"r":16080,"s":"grey"},{"b":0.145,"r":17000,"s":"grey"},{"b":0.168,"r":17760,"s":"grey"},{"b":0.2,"r":18250,"s":"grey"},{"b":0.228,"r":18600,"s":"grey"},
{"b":0.228,"r":18600,"s":"red"},{"b":0.26,"r":18850,"s":"red"},{"b":0.3,"r":19000,"s":"red"},{"b":0.36,"r":19100,"s":"red"},{"b":0.45,"r":19200,"s":"red"},{"b":0.6,"r":19300,"s":"red"},{"b":0.8,"r":19350,"s":"red"},{"b":0.96,"r":19380,"s":"red"},{"b":1.1,"r":19390,"s":"red"},{"b":1.27,"r":19400,"s":"red"}],
"b2dots":[{"b":-1.96,"r":0,"s":"blue"},{"b":-1.93,"r":0,"s":"blue"},{"b":-1.9,"r":0,"s":"blue"},{"b":-1.85,"r":5,"s":"blue"},{"b":-1.8,"r":5,"s":"blue"},{"b":-1.76,"r":5,"s":"blue"},{"b":-1.7,"r":5,"s":"blue"},{"b":-1.65,"r":8,"s":"blue"},{"b":-1.6,"r":8,"s":"blue"},{"b":-1.55,"r":10,"s":"blue"},{"b":-1.5,"r":10,"s":"blue"},{"b":-1.45,"r":12,"s":"blue"},{"b":-1.4,"r":12,"s":"blue"},{"b":-1.35,"r":15,"s":"blue"},{"b":1.33,"r":19400,"s":"red"},{"b":1.5,"r":19410,"s":"red"},{"b":1.6,"r":19410,"s":"red"},{"b":1.74,"r":19410,"s":"red"},{"b":1.78,"r":19410,"s":"red"},{"b":2.2,"r":19420,"s":"red"}],
"b2lead":[{"x":-2.231,"y":6578,"x2":-1.689,"y2":0},{"x":-1.599,"y":4338,"x2":-0.995,"y2":20},{"x":-1.067,"y":7694,"x2":-0.814,"y2":60},{"x":-0.434,"y":5118,"x2":-0.573,"y2":130},{"x":0.452,"y":420,"x2":-0.6,"y2":120}],
"b2lab":[{"lab":"POLE3","x":-2.231,"y":7417},{"lab":"FANCA","x":-1.165,"y":8533},{"lab":"RRM2","x":-1.609,"y":5177},{"lab":"RRM1","x":-0.434,"y":5957},{"lab":"BRCA2","x":0.873,"y":420}]
},
"spacing":0,
"vconcat":[
{"title":{"text":"a","anchor":"start","fontSize":23,"fontWeight":"bold","dx":-22,"offset":2},
 "spacing":38,
 "resolve":{"scale":{"color":"independent","fill":"independent","shape":"independent"}},
 "hconcat":[
 {"width":256,"height":261,
  "layer":[
   {"data":{"name":"a1thx"},"mark":{"type":"rule","color":"#a8a8a8","strokeDash":[6,3],"strokeWidth":1},
    "encoding":{"x":{"field":"v","type":"quantitative","scale":{"domain":[-0.735,0.82],"nice":false,"zero":false},"axis":{"values":[-0.4,0,0.4,0.8],"format":".1f","labelExpr":"replace(datum.label,'\u2212','-')","title":["MAGeCK MLE Beta","LN229 DMSO vs. plasmid"],"titlePadding":2,"labelPadding":9}}}},
   {"data":{"name":"a1thy"},"mark":{"type":"rule","color":"#a8a8a8","strokeDash":[6,3],"strokeWidth":1},
    "encoding":{"y":{"field":"v","type":"quantitative","scale":{"domain":[-0.91,0.62],"nice":false,"zero":false},"axis":{"values":[-0.5,0,0.5],"format":".1f","labelExpr":"replace(datum.label,'\u2212','-')","title":["MAGeCK MLE Beta","LN229 AZD6738 vs. plasmid"],"titlePadding":6,"labelPadding":9}}}},
   {"data":{"name":"a1pts"},"transform":[{"filter":"datum.g==='c'"}],"mark":{"type":"circle","size":135,"color":"#c9c9c9","opacity":1},
    "encoding":{"x":{"field":"x","type":"quantitative"},"y":{"field":"y","type":"quantitative"}}},
   {"data":{"name":"a1pts"},"transform":[{"filter":"datum.g==='h'"}],"mark":{"type":"circle","size":32,"color":"#cacaca","opacity":1},
    "encoding":{"x":{"field":"x","type":"quantitative"},"y":{"field":"y","type":"quantitative"}}},
   {"data":{"name":"a1pts"},"transform":[{"filter":"datum.g!=='c' && datum.g!=='h'"}],"mark":{"type":"circle","size":11,"opacity":1},
    "encoding":{"x":{"field":"x","type":"quantitative"},"y":{"field":"y","type":"quantitative"},"color":{"field":"g","type":"nominal","scale":{"domain":["s","r","p","gr","b"],"range":["#c4c4c4","#e3121b","#4a1a86","#16784a","#2f74c0"]},"legend":null}}},
   {"data":{"name":"a1diag"},"mark":{"type":"rule","color":"#8a8a8a","strokeWidth":0.8},
    "encoding":{"x":{"field":"x","type":"quantitative"},"y":{"field":"y","type":"quantitative"},"x2":{"field":"x2"},"y2":{"field":"y2"}}},
   {"data":{"name":"a1lead"},"mark":{"type":"rule","color":"#222222","strokeDash":[4,3],"strokeWidth":1.2},
    "encoding":{"x":{"field":"x","type":"quantitative"},"y":{"field":"y","type":"quantitative"},"x2":{"field":"x2"},"y2":{"field":"y2"}}},
   {"data":{"name":"a1lab"},"mark":{"type":"point","filled":true,"size":3600,"opacity":1,"stroke":"#dbe5f1","strokeWidth":1},
    "encoding":{"x":{"field":"x","type":"quantitative"},"y":{"field":"y","type":"quantitative"},
     "shape":{"field":"lab","type":"nominal","legend":null,"scale":{"domain":["FANCA","BIRC5","RRM2","DTYMK","POLE3","TYMS","DDB1","TOP2A","CDK12","EGLN1","BRCA2","RRM1"],"range":["M-0.72,-0.3H0.72Q0.82,-0.3,0.82,-0.2V0.2Q0.82,0.3,0.72,0.3H-0.72Q-0.82,0.3,-0.82,0.2V-0.2Q-0.82,-0.3,-0.72,-0.3Z","M-0.58,-0.3H0.58Q0.68,-0.3,0.68,-0.2V0.2Q0.68,0.3,0.58,0.3H-0.58Q-0.68,0.3,-0.68,0.2V-0.2Q-0.68,-0.3,-0.58,-0.3Z","M-0.62,-0.3H0.62Q0.72,-0.3,0.72,-0.2V0.2Q0.72,0.3,0.62,0.3H-0.62Q-0.72,0.3,-0.72,0.2V-0.2Q-0.72,-0.3,-0.62,-0.3Z","M-0.77,-0.3H0.77Q0.87,-0.3,0.87,-0.2V0.2Q0.87,0.3,0.77,0.3H-0.77Q-0.87,0.3,-0.87,0.2V-0.2Q-0.87,-0.3,-0.77,-0.3Z","M-0.68,-0.3H0.68Q0.78,-0.3,0.78,-0.2V0.2Q0.78,0.3,0.68,0.3H-0.68Q-0.78,0.3,-0.78,0.2V-0.2Q-0.78,-0.3,-0.68,-0.3Z","M-0.63,-0.3H0.63Q0.73,-0.3,0.73,-0.2V0.2Q0.73,0.3,0.63,0.3H-0.63Q-0.73,0.3,-0.73,0.2V-0.2Q-0.73,-0.3,-0.63,-0.3Z","M-0.6,-0.3H0.6Q0.7,-0.3,0.7,-0.2V0.2Q0.7,0.3,0.6,0.3H-0.6Q-0.7,0.3,-0.7,0.2V-0.2Q-0.7,-0.3,-0.6,-0.3Z","M-0.72,-0.3H0.72Q0.82,-0.3,0.82,-0.2V0.2Q0.82,0.3,0.72,0.3H-0.72Q-0.82,0.3,-0.82,0.2V-0.2Q-0.82,-0.3,-0.72,-0.3Z","M-0.68,-0.3H0.68Q0.78,-0.3,0.78,-0.2V0.2Q0.78,0.3,0.68,0.3H-0.68Q-0.78,0.3,-0.78,0.2V-0.2Q-0.78,-0.3,-0.68,-0.3Z","M-0.67,-0.3H0.67Q0.77,-0.3,0.77,-0.2V0.2Q0.77,0.3,0.67,0.3H-0.67Q-0.77,0.3,-0.77,0.2V-0.2Q-0.77,-0.3,-0.67,-0.3Z","M-0.68,-0.3H0.68Q0.78,-0.3,0.78,-0.2V0.2Q0.78,0.3,0.68,0.3H-0.68Q-0.78,0.3,-0.78,0.2V-0.2Q-0.78,-0.3,-0.68,-0.3Z","M-0.62,-0.3H0.62Q0.72,-0.3,0.72,-0.2V0.2Q0.72,0.3,0.62,0.3H-0.62Q-0.72,0.3,-0.72,0.2V-0.2Q-0.72,-0.3,-0.62,-0.3Z"]}},
     "fill":{"field":"k","type":"nominal","legend":null,"scale":{"domain":["b","g"],"range":["#1c58a8","#b5b5b5"]}}}},
   {"data":{"name":"a1lab"},"mark":{"type":"text","color":"#ffffff","font":"Lato","fontSize":14,"baseline":"middle","align":"center","dy":1},
    "encoding":{"x":{"field":"x","type":"quantitative"},"y":{"field":"y","type":"quantitative"},"text":{"field":"lab"}}}
  ]},
 {"width":244,"height":259,
  "layer":[
   {"data":{"name":"a2thx"},"mark":{"type":"rule","color":"#a8a8a8","strokeDash":[6,3],"strokeWidth":1},
    "encoding":{"x":{"field":"v","type":"quantitative","scale":{"domain":[-0.463,0.632],"nice":false,"zero":false},"axis":{"values":[-0.4,-0.2,0,0.2,0.4,0.6],"format":".1f","labelExpr":"replace(datum.label,'\u2212','-')","title":["MAGeCK MLE Beta","LN229 AZD6738 vs. DMSO"],"titlePadding":3,"labelPadding":9,"domainColor":"#555555"}},
     "y":{"datum":20430,"type":"quantitative","scale":{"domain":[-950,21470],"nice":false,"zero":false},"axis":{"values":[0,5000,10000,15000,20000],"labelExpr":"(datum.value/1000) + '*10³'","title":"Gene rank","titlePadding":10,"labelPadding":9,"domain":false}}}},
   {"data":{"name":"a2axis"},"mark":{"type":"rule","color":"#555555","strokeWidth":1},
    "encoding":{"x":{"field":"x","type":"quantitative"},"y":{"field":"y","type":"quantitative"},"y2":{"field":"y2"}}},
   {"data":{"name":"a2rank"},"transform":[{"filter":"datum.s==='grey'"}],"mark":{"type":"line","color":"#a3a3a3","strokeWidth":2},
    "encoding":{"x":{"field":"b","type":"quantitative"},"y":{"field":"r","type":"quantitative"}}},
   {"data":{"name":"a2rank"},"transform":[{"filter":"datum.s!=='grey'"}],"mark":{"type":"line","strokeWidth":2.6},
    "encoding":{"x":{"field":"b","type":"quantitative"},"y":{"field":"r","type":"quantitative"},"color":{"field":"s","type":"nominal","legend":null,"scale":{"domain":["blue","grey","red"],"range":["#1e4d9b","#a3a3a3","#d9161c"]}}}},
   {"data":{"name":"a2dots"},"mark":{"type":"circle","size":9,"opacity":1},
    "encoding":{"x":{"field":"b","type":"quantitative"},"y":{"field":"r","type":"quantitative"},"color":{"field":"s","type":"nominal","legend":null,"scale":{"domain":["blue","grey","red"],"range":["#1e4d9b","#a3a3a3","#d9161c"]}}}},
   {"data":{"name":"a2lead"},"mark":{"type":"rule","color":"#222222","strokeDash":[4,3],"strokeWidth":1.2},
    "encoding":{"x":{"field":"x","type":"quantitative"},"y":{"field":"y","type":"quantitative"},"x2":{"field":"x2"},"y2":{"field":"y2"}}},
   {"data":{"name":"a2lab"},"mark":{"type":"point","filled":true,"size":3600,"opacity":1,"stroke":"#dbe5f1","strokeWidth":1,"fill":"#1c58a8"},
    "encoding":{"x":{"field":"x","type":"quantitative"},"y":{"field":"y","type":"quantitative"},
     "shape":{"field":"lab","type":"nominal","legend":null,"scale":{"domain":["FANCA","BIRC5","RRM2","DTYMK","POLE3","TYMS","DDB1","TOP2A","CDK12","EGLN1","BRCA2","RRM1"],"range":["M-0.72,-0.3H0.72Q0.82,-0.3,0.82,-0.2V0.2Q0.82,0.3,0.72,0.3H-0.72Q-0.82,0.3,-0.82,0.2V-0.2Q-0.82,-0.3,-0.72,-0.3Z","M-0.58,-0.3H0.58Q0.68,-0.3,0.68,-0.2V0.2Q0.68,0.3,0.58,0.3H-0.58Q-0.68,0.3,-0.68,0.2V-0.2Q-0.68,-0.3,-0.58,-0.3Z","M-0.62,-0.3H0.62Q0.72,-0.3,0.72,-0.2V0.2Q0.72,0.3,0.62,0.3H-0.62Q-0.72,0.3,-0.72,0.2V-0.2Q-0.72,-0.3,-0.62,-0.3Z","M-0.77,-0.3H0.77Q0.87,-0.3,0.87,-0.2V0.2Q0.87,0.3,0.77,0.3H-0.77Q-0.87,0.3,-0.87,0.2V-0.2Q-0.87,-0.3,-0.77,-0.3Z","M-0.68,-0.3H0.68Q0.78,-0.3,0.78,-0.2V0.2Q0.78,0.3,0.68,0.3H-0.68Q-0.78,0.3,-0.78,0.2V-0.2Q-0.78,-0.3,-0.68,-0.3Z","M-0.63,-0.3H0.63Q0.73,-0.3,0.73,-0.2V0.2Q0.73,0.3,0.63,0.3H-0.63Q-0.73,0.3,-0.73,0.2V-0.2Q-0.73,-0.3,-0.63,-0.3Z","M-0.6,-0.3H0.6Q0.7,-0.3,0.7,-0.2V0.2Q0.7,0.3,0.6,0.3H-0.6Q-0.7,0.3,-0.7,0.2V-0.2Q-0.7,-0.3,-0.6,-0.3Z","M-0.72,-0.3H0.72Q0.82,-0.3,0.82,-0.2V0.2Q0.82,0.3,0.72,0.3H-0.72Q-0.82,0.3,-0.82,0.2V-0.2Q-0.82,-0.3,-0.72,-0.3Z","M-0.68,-0.3H0.68Q0.78,-0.3,0.78,-0.2V0.2Q0.78,0.3,0.68,0.3H-0.68Q-0.78,0.3,-0.78,0.2V-0.2Q-0.78,-0.3,-0.68,-0.3Z","M-0.67,-0.3H0.67Q0.77,-0.3,0.77,-0.2V0.2Q0.77,0.3,0.67,0.3H-0.67Q-0.77,0.3,-0.77,0.2V-0.2Q-0.77,-0.3,-0.67,-0.3Z","M-0.68,-0.3H0.68Q0.78,-0.3,0.78,-0.2V0.2Q0.78,0.3,0.68,0.3H-0.68Q-0.78,0.3,-0.78,0.2V-0.2Q-0.78,-0.3,-0.68,-0.3Z","M-0.62,-0.3H0.62Q0.72,-0.3,0.72,-0.2V0.2Q0.72,0.3,0.62,0.3H-0.62Q-0.72,0.3,-0.72,0.2V-0.2Q-0.72,-0.3,-0.62,-0.3Z"]}}}},
   {"data":{"name":"a2lab"},"mark":{"type":"text","color":"#ffffff","font":"Lato","fontSize":14,"baseline":"middle","align":"center","dy":1},
    "encoding":{"x":{"field":"x","type":"quantitative"},"y":{"field":"y","type":"quantitative"},"text":{"field":"lab"}}}
  ]}
 ]},
{"title":{"text":"b","anchor":"start","fontSize":23,"fontWeight":"bold","dx":-40,"offset":-3},
 "spacing":8,
 "resolve":{"scale":{"color":"independent","fill":"independent","shape":"independent"}},
 "hconcat":[
 {"width":261,"height":262,
  "layer":[
   {"data":{"name":"b1thx"},"mark":{"type":"rule","color":"#b0b0b0","strokeDash":[6,3],"strokeWidth":1},
    "encoding":{"x":{"field":"v","type":"quantitative","scale":{"domain":[-3.47,1.87],"nice":false,"zero":false},"axis":{"values":[-3,-2,-1,0,1],"format":".0f","labelExpr":"replace(datum.label,'\u2212','-')","title":["MAGeCK MLE Beta","LNZ308 DMSO vs. plasmid"],"titlePadding":13,"labelPadding":9,"titleLineHeight":19}}}},
   {"data":{"name":"b1thy"},"mark":{"type":"rule","color":"#b0b0b0","strokeDash":[6,3],"strokeWidth":1},
    "encoding":{"y":{"field":"v","type":"quantitative","scale":{"domain":[-3.81,1.92],"nice":false,"zero":false},"axis":{"values":[-3,-2,-1,0,1],"format":".0f","labelExpr":"replace(datum.label,'\u2212','-')","title":["MAGeCK MLE Beta","LNZ308 AZD6738 vs. plasmid"],"titlePadding":2,"labelPadding":9}}}},
   {"data":{"name":"b1pts"},"transform":[{"filter":"datum.g==='c'"}],"mark":{"type":"circle","size":95,"color":"#c9c9c9","opacity":1},
    "encoding":{"x":{"field":"x","type":"quantitative"},"y":{"field":"y","type":"quantitative"}}},
   {"data":{"name":"b1pts"},"transform":[{"filter":"datum.g==='h'"}],"mark":{"type":"circle","size":26,"color":"#cacaca","opacity":1},
    "encoding":{"x":{"field":"x","type":"quantitative"},"y":{"field":"y","type":"quantitative"}}},
   {"data":{"name":"b1pts"},"transform":[{"filter":"datum.g!=='c' && datum.g!=='h'"}],"mark":{"type":"circle","size":11,"opacity":1},
    "encoding":{"x":{"field":"x","type":"quantitative"},"y":{"field":"y","type":"quantitative"},"color":{"field":"g","type":"nominal","scale":{"domain":["s","r","p","gr","b"],"range":["#c4c4c4","#e3121b","#4a1a86","#16784a","#2f74c0"]},"legend":null}}},
   {"data":{"name":"b1diag"},"mark":{"type":"rule","color":"#8a8a8a","strokeWidth":0.8},
    "encoding":{"x":{"field":"x","type":"quantitative"},"y":{"field":"y","type":"quantitative"},"x2":{"field":"x2"},"y2":{"field":"y2"}}},
   {"data":{"name":"b1lead"},"mark":{"type":"rule","color":"#222222","strokeDash":[4,3],"strokeWidth":1.2},
    "encoding":{"x":{"field":"x","type":"quantitative"},"y":{"field":"y","type":"quantitative"},"x2":{"field":"x2"},"y2":{"field":"y2"}}},
   {"data":{"name":"b1lab"},"mark":{"type":"point","filled":true,"size":3600,"opacity":1,"stroke":"#dbe5f1","strokeWidth":1},
    "encoding":{"x":{"field":"x","type":"quantitative"},"y":{"field":"y","type":"quantitative"},
     "shape":{"field":"lab","type":"nominal","legend":null,"scale":{"domain":["FANCA","BIRC5","RRM2","DTYMK","POLE3","TYMS","DDB1","TOP2A","CDK12","EGLN1","BRCA2","RRM1"],"range":["M-0.72,-0.3H0.72Q0.82,-0.3,0.82,-0.2V0.2Q0.82,0.3,0.72,0.3H-0.72Q-0.82,0.3,-0.82,0.2V-0.2Q-0.82,-0.3,-0.72,-0.3Z","M-0.58,-0.3H0.58Q0.68,-0.3,0.68,-0.2V0.2Q0.68,0.3,0.58,0.3H-0.58Q-0.68,0.3,-0.68,0.2V-0.2Q-0.68,-0.3,-0.58,-0.3Z","M-0.62,-0.3H0.62Q0.72,-0.3,0.72,-0.2V0.2Q0.72,0.3,0.62,0.3H-0.62Q-0.72,0.3,-0.72,0.2V-0.2Q-0.72,-0.3,-0.62,-0.3Z","M-0.77,-0.3H0.77Q0.87,-0.3,0.87,-0.2V0.2Q0.87,0.3,0.77,0.3H-0.77Q-0.87,0.3,-0.87,0.2V-0.2Q-0.87,-0.3,-0.77,-0.3Z","M-0.68,-0.3H0.68Q0.78,-0.3,0.78,-0.2V0.2Q0.78,0.3,0.68,0.3H-0.68Q-0.78,0.3,-0.78,0.2V-0.2Q-0.78,-0.3,-0.68,-0.3Z","M-0.63,-0.3H0.63Q0.73,-0.3,0.73,-0.2V0.2Q0.73,0.3,0.63,0.3H-0.63Q-0.73,0.3,-0.73,0.2V-0.2Q-0.73,-0.3,-0.63,-0.3Z","M-0.6,-0.3H0.6Q0.7,-0.3,0.7,-0.2V0.2Q0.7,0.3,0.6,0.3H-0.6Q-0.7,0.3,-0.7,0.2V-0.2Q-0.7,-0.3,-0.6,-0.3Z","M-0.72,-0.3H0.72Q0.82,-0.3,0.82,-0.2V0.2Q0.82,0.3,0.72,0.3H-0.72Q-0.82,0.3,-0.82,0.2V-0.2Q-0.82,-0.3,-0.72,-0.3Z","M-0.68,-0.3H0.68Q0.78,-0.3,0.78,-0.2V0.2Q0.78,0.3,0.68,0.3H-0.68Q-0.78,0.3,-0.78,0.2V-0.2Q-0.78,-0.3,-0.68,-0.3Z","M-0.67,-0.3H0.67Q0.77,-0.3,0.77,-0.2V0.2Q0.77,0.3,0.67,0.3H-0.67Q-0.77,0.3,-0.77,0.2V-0.2Q-0.77,-0.3,-0.67,-0.3Z","M-0.68,-0.3H0.68Q0.78,-0.3,0.78,-0.2V0.2Q0.78,0.3,0.68,0.3H-0.68Q-0.78,0.3,-0.78,0.2V-0.2Q-0.78,-0.3,-0.68,-0.3Z","M-0.62,-0.3H0.62Q0.72,-0.3,0.72,-0.2V0.2Q0.72,0.3,0.62,0.3H-0.62Q-0.72,0.3,-0.72,0.2V-0.2Q-0.72,-0.3,-0.62,-0.3Z"]}},
     "fill":{"field":"k","type":"nominal","legend":null,"scale":{"domain":["b","g"],"range":["#1c58a8","#b5b5b5"]}}}},
   {"data":{"name":"b1lab"},"mark":{"type":"text","color":"#ffffff","font":"Lato","fontSize":14,"baseline":"middle","align":"center","dy":1},
    "encoding":{"x":{"field":"x","type":"quantitative"},"y":{"field":"y","type":"quantitative"},"text":{"field":"lab"}}}
  ]},
 {"width":253,"height":266,
  "layer":[
   {"data":{"name":"b2thx"},"mark":{"type":"rule","color":"#b0b0b0","strokeDash":[6,3],"strokeWidth":1},
    "encoding":{"x":{"field":"v","type":"quantitative","scale":{"domain":[-2.17,2.4],"nice":false,"zero":false},"axis":{"values":[-2,-1,0,1,2],"format":".0f","labelExpr":"replace(datum.label,'\u2212','-')","title":["MAGeCK MLE Beta","LNZ308 AZD6738 vs. DMSO"],"titlePadding":3,"labelPadding":8,"domainColor":"#555555"}},
     "y":{"datum":20335,"type":"quantitative","scale":{"domain":[-1030,21257],"nice":false,"zero":false},"axis":{"values":[0,5000,10000,15000,20000],"labelExpr":"(datum.value/1000) + '*10³'","title":"Gene rank","titlePadding":12,"labelPadding":6,"domain":false}}}},
   {"data":{"name":"b2axis"},"mark":{"type":"rule","color":"#555555","strokeWidth":1},
    "encoding":{"x":{"field":"x","type":"quantitative"},"y":{"field":"y","type":"quantitative"},"y2":{"field":"y2"}}},
   {"data":{"name":"b2rank"},"transform":[{"filter":"datum.s==='grey'"}],"mark":{"type":"line","color":"#a3a3a3","strokeWidth":2},
    "encoding":{"x":{"field":"b","type":"quantitative"},"y":{"field":"r","type":"quantitative"}}},
   {"data":{"name":"b2rank"},"transform":[{"filter":"datum.s!=='grey'"}],"mark":{"type":"line","strokeWidth":2.6},
    "encoding":{"x":{"field":"b","type":"quantitative"},"y":{"field":"r","type":"quantitative"},"color":{"field":"s","type":"nominal","legend":null,"scale":{"domain":["blue","grey","red"],"range":["#1e4d9b","#a3a3a3","#d9161c"]}}}},
   {"data":{"name":"b2dots"},"mark":{"type":"circle","size":9,"opacity":1},
    "encoding":{"x":{"field":"b","type":"quantitative"},"y":{"field":"r","type":"quantitative"},"color":{"field":"s","type":"nominal","legend":null,"scale":{"domain":["blue","grey","red"],"range":["#1e4d9b","#a3a3a3","#d9161c"]}}}},
   {"data":{"name":"b2lead"},"mark":{"type":"rule","color":"#222222","strokeDash":[4,3],"strokeWidth":1.2},
    "encoding":{"x":{"field":"x","type":"quantitative"},"y":{"field":"y","type":"quantitative"},"x2":{"field":"x2"},"y2":{"field":"y2"}}},
   {"data":{"name":"b2lab"},"mark":{"type":"point","filled":true,"size":3600,"opacity":1,"stroke":"#dbe5f1","strokeWidth":1,"fill":"#1c58a8"},
    "encoding":{"x":{"field":"x","type":"quantitative"},"y":{"field":"y","type":"quantitative"},
     "shape":{"field":"lab","type":"nominal","legend":null,"scale":{"domain":["FANCA","BIRC5","RRM2","DTYMK","POLE3","TYMS","DDB1","TOP2A","CDK12","EGLN1","BRCA2","RRM1"],"range":["M-0.72,-0.3H0.72Q0.82,-0.3,0.82,-0.2V0.2Q0.82,0.3,0.72,0.3H-0.72Q-0.82,0.3,-0.82,0.2V-0.2Q-0.82,-0.3,-0.72,-0.3Z","M-0.58,-0.3H0.58Q0.68,-0.3,0.68,-0.2V0.2Q0.68,0.3,0.58,0.3H-0.58Q-0.68,0.3,-0.68,0.2V-0.2Q-0.68,-0.3,-0.58,-0.3Z","M-0.62,-0.3H0.62Q0.72,-0.3,0.72,-0.2V0.2Q0.72,0.3,0.62,0.3H-0.62Q-0.72,0.3,-0.72,0.2V-0.2Q-0.72,-0.3,-0.62,-0.3Z","M-0.77,-0.3H0.77Q0.87,-0.3,0.87,-0.2V0.2Q0.87,0.3,0.77,0.3H-0.77Q-0.87,0.3,-0.87,0.2V-0.2Q-0.87,-0.3,-0.77,-0.3Z","M-0.68,-0.3H0.68Q0.78,-0.3,0.78,-0.2V0.2Q0.78,0.3,0.68,0.3H-0.68Q-0.78,0.3,-0.78,0.2V-0.2Q-0.78,-0.3,-0.68,-0.3Z","M-0.63,-0.3H0.63Q0.73,-0.3,0.73,-0.2V0.2Q0.73,0.3,0.63,0.3H-0.63Q-0.73,0.3,-0.73,0.2V-0.2Q-0.73,-0.3,-0.63,-0.3Z","M-0.6,-0.3H0.6Q0.7,-0.3,0.7,-0.2V0.2Q0.7,0.3,0.6,0.3H-0.6Q-0.7,0.3,-0.7,0.2V-0.2Q-0.7,-0.3,-0.6,-0.3Z","M-0.72,-0.3H0.72Q0.82,-0.3,0.82,-0.2V0.2Q0.82,0.3,0.72,0.3H-0.72Q-0.82,0.3,-0.82,0.2V-0.2Q-0.82,-0.3,-0.72,-0.3Z","M-0.68,-0.3H0.68Q0.78,-0.3,0.78,-0.2V0.2Q0.78,0.3,0.68,0.3H-0.68Q-0.78,0.3,-0.78,0.2V-0.2Q-0.78,-0.3,-0.68,-0.3Z","M-0.67,-0.3H0.67Q0.77,-0.3,0.77,-0.2V0.2Q0.77,0.3,0.67,0.3H-0.67Q-0.77,0.3,-0.77,0.2V-0.2Q-0.77,-0.3,-0.67,-0.3Z","M-0.68,-0.3H0.68Q0.78,-0.3,0.78,-0.2V0.2Q0.78,0.3,0.68,0.3H-0.68Q-0.78,0.3,-0.78,0.2V-0.2Q-0.78,-0.3,-0.68,-0.3Z","M-0.62,-0.3H0.62Q0.72,-0.3,0.72,-0.2V0.2Q0.72,0.3,0.62,0.3H-0.62Q-0.72,0.3,-0.72,0.2V-0.2Q-0.72,-0.3,-0.62,-0.3Z"]}}}},
   {"data":{"name":"b2lab"},"mark":{"type":"text","color":"#ffffff","font":"Lato","fontSize":14,"baseline":"middle","align":"center","dy":1},
    "encoding":{"x":{"field":"x","type":"quantitative"},"y":{"field":"y","type":"quantitative"},"text":{"field":"lab"}}}
  ]}
 ]}
]
}
